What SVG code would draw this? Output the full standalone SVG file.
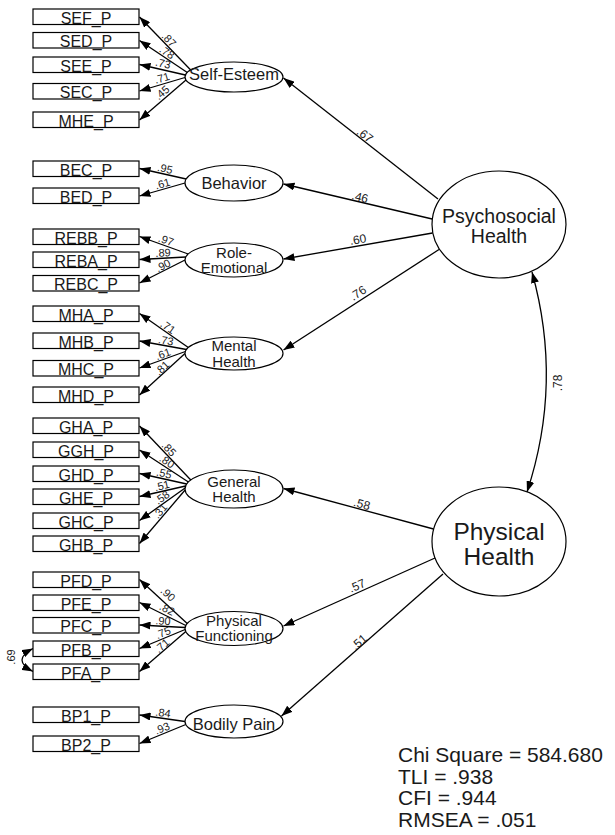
<svg xmlns="http://www.w3.org/2000/svg" width="615" height="835" viewBox="0 0 615 835">
<style>
  .box{fill:#fff;stroke:#000;stroke-width:1.2}
  .lat{fill:#fff;stroke:#000;stroke-width:1.2}
  .bt{font-family:"Liberation Sans",Arial,sans-serif;font-size:16px;fill:#1a1a1a;text-anchor:middle}
  .lt{font-family:"Liberation Sans",Arial,sans-serif;font-size:16.5px;fill:#1a1a1a;text-anchor:middle}
  .lt2{font-family:"Liberation Sans",Arial,sans-serif;font-size:15px;fill:#1a1a1a;text-anchor:middle}
  .big{font-family:"Liberation Sans",Arial,sans-serif;font-size:19.5px;fill:#1a1a1a;text-anchor:middle}
  .big2{font-family:"Liberation Sans",Arial,sans-serif;font-size:24.5px;fill:#1a1a1a;text-anchor:middle}
  .ln{fill:none;stroke:#000;stroke-width:1.3;marker-end:url(#ah)}
  .cv{fill:none;stroke:#000;stroke-width:1.3;marker-start:url(#ah2);marker-end:url(#ah2)}
  .w{font-family:"Liberation Sans",Arial,sans-serif;font-size:11px;fill:#1a1a1a;text-anchor:middle}
  .ws{font-family:"Liberation Sans",Arial,sans-serif;font-size:12px;fill:#1a1a1a;text-anchor:middle}
  .fit{font-family:"Liberation Sans",Arial,sans-serif;font-size:21px;fill:#1a1a1a}
</style>
<defs>
  <marker id="ah" viewBox="0 0 11 8" refX="11" refY="4" markerWidth="11" markerHeight="8" markerUnits="userSpaceOnUse" orient="auto"><path d="M0,0 L11,4 L0,8 z" fill="#000"/></marker>
  <marker id="ah2" viewBox="0 0 11 8" refX="11" refY="4" markerWidth="11" markerHeight="8" markerUnits="userSpaceOnUse" orient="auto-start-reverse"><path d="M0,0 L11,4 L0,8 z" fill="#000"/></marker>
</defs>

<g id="connectors">
  <!-- Self-Esteem indicators -->
  <line class="ln" x1="190.7" y1="70" x2="139.5" y2="17"/>
  <line class="ln" x1="187.3" y1="72.5" x2="139.5" y2="40.5"/>
  <line class="ln" x1="185.4" y1="75" x2="139.5" y2="64.5"/>
  <line class="ln" x1="185" y1="77.5" x2="139.5" y2="91"/>
  <line class="ln" x1="186" y1="80" x2="139.5" y2="120"/>
  <!-- Behavior -->
  <line class="ln" x1="186.2" y1="179" x2="139.5" y2="168.5"/>
  <line class="ln" x1="185" y1="183" x2="139.5" y2="196"/>
  <!-- Role-Emotional -->
  <line class="ln" x1="188.2" y1="254" x2="139.5" y2="236.5"/>
  <line class="ln" x1="185.8" y1="257" x2="139.5" y2="259.5"/>
  <line class="ln" x1="185" y1="260" x2="139.5" y2="283"/>
  <!-- Mental Health -->
  <line class="ln" x1="188.3" y1="347.5" x2="139.5" y2="313.5"/>
  <line class="ln" x1="186.5" y1="349.5" x2="139.5" y2="341"/>
  <line class="ln" x1="185.4" y1="351.5" x2="139.5" y2="368"/>
  <line class="ln" x1="185" y1="353.5" x2="139.5" y2="395"/>
  <!-- General Health -->
  <line class="ln" x1="190.8" y1="480" x2="139.5" y2="426"/>
  <line class="ln" x1="188.4" y1="482" x2="139.5" y2="450"/>
  <line class="ln" x1="186.7" y1="484" x2="139.5" y2="473.5"/>
  <line class="ln" x1="185.6" y1="486" x2="139.5" y2="496.5"/>
  <line class="ln" x1="185.1" y1="488" x2="139.5" y2="520.5"/>
  <line class="ln" x1="185.1" y1="490" x2="139.5" y2="543.5"/>
  <!-- Physical Functioning -->
  <line class="ln" x1="187.2" y1="623.5" x2="139.5" y2="579.5"/>
  <line class="ln" x1="185.8" y1="625.5" x2="139.5" y2="602.5"/>
  <line class="ln" x1="185.1" y1="627.5" x2="139.5" y2="625"/>
  <line class="ln" x1="185.1" y1="629.5" x2="139.5" y2="648.5"/>
  <line class="ln" x1="185.8" y1="631.5" x2="139.5" y2="671.5"/>
  <!-- Bodily Pain -->
  <line class="ln" x1="185" y1="721.5" x2="139.5" y2="715"/>
  <line class="ln" x1="185.8" y1="724.5" x2="139.5" y2="743.5"/>
  <!-- structural paths -->
  <line class="ln" x1="438" y1="199" x2="283.5" y2="78"/>
  <line class="ln" x1="432.2" y1="219" x2="283.5" y2="184"/>
  <line class="ln" x1="432.5" y1="233" x2="283.5" y2="259"/>
  <line class="ln" x1="439" y1="249.5" x2="283.5" y2="350"/>
  <line class="ln" x1="433.5" y1="529" x2="283.5" y2="488.5"/>
  <line class="ln" x1="435" y1="558" x2="283.5" y2="626"/>
  <line class="ln" x1="443" y1="574" x2="281.5" y2="716"/>
  <!-- covariances -->
  <path class="cv" d="M532,272 Q563,383 527,492"/>
  <path class="cv" d="M33,648.5 Q11,660 33,671.5"/>

  <!-- loading labels -->
  <text class="w" dy=".35em" transform="translate(169,39.6) rotate(46)">.87</text>
  <text class="w" dy=".35em" transform="translate(167,52.3) rotate(33.8)">.78</text>
  <text class="w" dy=".35em" transform="translate(163,63.5) rotate(12.9)">.73</text>
  <text class="w" dy=".35em" transform="translate(162,78) rotate(-16.5)">.71</text>
  <text class="w" dy=".35em" transform="translate(162,92.5) rotate(-40.7)">.45</text>

  <text class="w" dy=".35em" transform="translate(165,168.6) rotate(12.7)">.95</text>
  <text class="w" dy=".35em" transform="translate(162.5,183.7) rotate(-15.9)">.61</text>

  <text class="w" dy=".35em" transform="translate(166,240.1) rotate(19.8)">.97</text>
  <text class="w" dy=".35em" transform="translate(163,252.7) rotate(-3.1)">.89</text>
  <text class="w" dy=".35em" transform="translate(163,265.5) rotate(-26.8)">.90</text>

  <text class="w" dy=".35em" transform="translate(168,327) rotate(34.9)">.71</text>
  <text class="w" dy=".35em" transform="translate(166,340.5) rotate(10.3)">.73</text>
  <text class="w" dy=".35em" transform="translate(163,354) rotate(-19.8)">.61</text>
  <text class="w" dy=".35em" transform="translate(162,368) rotate(-42.4)">.81</text>

  <text class="w" dy=".35em" transform="translate(169,449) rotate(46.5)">.85</text>
  <text class="w" dy=".35em" transform="translate(167,461.4) rotate(33.2)">.80</text>
  <text class="w" dy=".35em" transform="translate(164,473.3) rotate(12.5)">.55</text>
  <text class="w" dy=".35em" transform="translate(162,485.7) rotate(-12.8)">.51</text>
  <text class="w" dy=".35em" transform="translate(162,497.5) rotate(-35.5)">.58</text>
  <text class="w" dy=".35em" transform="translate(160,511) rotate(-49.6)">.31</text>

  <text class="w" dy=".35em" transform="translate(168,594) rotate(42.7)">.90</text>
  <text class="w" dy=".35em" transform="translate(167,609) rotate(26.4)">.82</text>
  <text class="w" dy=".35em" transform="translate(163,620.8) rotate(3.1)">.90</text>
  <text class="w" dy=".35em" transform="translate(163,632.7) rotate(-22.6)">.75</text>
  <text class="w" dy=".35em" transform="translate(162,645.5) rotate(-40.8)">.71</text>

  <text class="w" dy=".35em" transform="translate(163,712.8) rotate(8.1)">.84</text>
  <text class="w" dy=".35em" transform="translate(162,728.3) rotate(-22.3)">.93</text>

  <text class="ws" dy=".35em" transform="translate(365,135) rotate(38.1)">.67</text>
  <text class="ws" dy=".35em" transform="translate(360,197) rotate(13.7)">.46</text>
  <text class="ws" dy=".35em" transform="translate(358,239.5) rotate(-9.9)">.60</text>
  <text class="ws" dy=".35em" transform="translate(358,293) rotate(-33)">.76</text>
  <text class="ws" dy=".35em" transform="translate(362,504) rotate(15.2)">.58</text>
  <text class="ws" dy=".35em" transform="translate(357,585.5) rotate(-24)">.57</text>
  <text class="ws" dy=".35em" transform="translate(359,642) rotate(-41.3)">.51</text>

  <text class="ws" transform="translate(562,383) rotate(-90)">.78</text>
  <text class="w" transform="translate(15,657) rotate(-90)">.69</text>
</g>

<!-- Indicator boxes -->
<g id="SEF_P"><rect class="box" x="33" y="9" width="106" height="15.5"/><text class="bt" x="86" y="23.5">SEF_P</text></g>
<g id="SED_P"><rect class="box" x="33" y="32.5" width="106" height="15.5"/><text class="bt" x="86" y="47">SED_P</text></g>
<g id="SEE_P"><rect class="box" x="33" y="57" width="106" height="15.5"/><text class="bt" x="86" y="71.5">SEE_P</text></g>
<g id="SEC_P"><rect class="box" x="33" y="83.5" width="106" height="15.5"/><text class="bt" x="86" y="98">SEC_P</text></g>
<g id="MHE_P"><rect class="box" x="33" y="112" width="106" height="15.5"/><text class="bt" x="86" y="126.5">MHE_P</text></g>

<g id="BEC_P"><rect class="box" x="33" y="161" width="106" height="15.5"/><text class="bt" x="86" y="175.5">BEC_P</text></g>
<g id="BED_P"><rect class="box" x="33" y="188" width="106" height="15.5"/><text class="bt" x="86" y="202.5">BED_P</text></g>

<g id="REBB_P"><rect class="box" x="33" y="229" width="106" height="15.5"/><text class="bt" x="86" y="243.5">REBB_P</text></g>
<g id="REBA_P"><rect class="box" x="33" y="252" width="106" height="15.5"/><text class="bt" x="86" y="266.5">REBA_P</text></g>
<g id="REBC_P"><rect class="box" x="33" y="275.5" width="106" height="15.5"/><text class="bt" x="86" y="290">REBC_P</text></g>

<g id="MHA_P"><rect class="box" x="33" y="306" width="106" height="15.5"/><text class="bt" x="86" y="320.5">MHA_P</text></g>
<g id="MHB_P"><rect class="box" x="33" y="333" width="106" height="15.5"/><text class="bt" x="86" y="347.5">MHB_P</text></g>
<g id="MHC_P"><rect class="box" x="33" y="360.5" width="106" height="15.5"/><text class="bt" x="86" y="375">MHC_P</text></g>
<g id="MHD_P"><rect class="box" x="33" y="387" width="106" height="15.5"/><text class="bt" x="86" y="401.5">MHD_P</text></g>

<g id="GHA_P"><rect class="box" x="33" y="418" width="106" height="15.5"/><text class="bt" x="86" y="432.5">GHA_P</text></g>
<g id="GGH_P"><rect class="box" x="33" y="442" width="106" height="15.5"/><text class="bt" x="86" y="456.5">GGH_P</text></g>
<g id="GHD_P"><rect class="box" x="33" y="466" width="106" height="15.5"/><text class="bt" x="86" y="480.5">GHD_P</text></g>
<g id="GHE_P"><rect class="box" x="33" y="489" width="106" height="15.5"/><text class="bt" x="86" y="503.5">GHE_P</text></g>
<g id="GHC_P"><rect class="box" x="33" y="513" width="106" height="15.5"/><text class="bt" x="86" y="527.5">GHC_P</text></g>
<g id="GHB_P"><rect class="box" x="33" y="536" width="106" height="15.5"/><text class="bt" x="86" y="550.5">GHB_P</text></g>

<g id="PFD_P"><rect class="box" x="33" y="572" width="106" height="15.5"/><text class="bt" x="86" y="586.5">PFD_P</text></g>
<g id="PFE_P"><rect class="box" x="33" y="595" width="106" height="15.5"/><text class="bt" x="86" y="609.5">PFE_P</text></g>
<g id="PFC_P"><rect class="box" x="33" y="617.5" width="106" height="15.5"/><text class="bt" x="86" y="632">PFC_P</text></g>
<g id="PFB_P"><rect class="box" x="33" y="641" width="106" height="15.5"/><text class="bt" x="86" y="655.5">PFB_P</text></g>
<g id="PFA_P"><rect class="box" x="33" y="664" width="106" height="15.5"/><text class="bt" x="86" y="678.5">PFA_P</text></g>

<g id="BP1_P"><rect class="box" x="33" y="707" width="106" height="15.5"/><text class="bt" x="86" y="721.5">BP1_P</text></g>
<g id="BP2_P"><rect class="box" x="33" y="736" width="106" height="15.5"/><text class="bt" x="86" y="750.5">BP2_P</text></g>

<!-- First-order latents -->
<g id="SelfEsteem"><ellipse class="lat" cx="234" cy="77" rx="49" ry="15"/><text class="lt" x="234" y="79.5">Self-Esteem</text></g>
<g id="Behavior"><ellipse class="lat" cx="234" cy="183" rx="49" ry="18"/><text class="lt" x="234" y="189">Behavior</text></g>
<g id="RoleEmotional"><ellipse class="lat" cx="234" cy="260" rx="49" ry="17"/><text class="lt2" x="234" y="257.5">Role-</text><text class="lt2" x="234" y="273">Emotional</text></g>
<g id="MentalHealth"><ellipse class="lat" cx="234" cy="353.5" rx="49" ry="16.5"/><text class="lt2" x="234" y="351">Mental</text><text class="lt2" x="234" y="366.5">Health</text></g>
<g id="GeneralHealth"><ellipse class="lat" cx="234" cy="489" rx="49" ry="19"/><text class="lt2" x="234" y="486.5">General</text><text class="lt2" x="234" y="502">Health</text></g>
<g id="PhysicalFunctioning"><ellipse class="lat" cx="234" cy="628.5" rx="49" ry="17"/><text class="lt2" x="234" y="625.5">Physical</text><text class="lt2" x="234" y="641">Functioning</text></g>
<g id="BodilyPain"><ellipse class="lat" cx="234" cy="721.5" rx="49" ry="16.5"/><text class="lt" x="234" y="730">Bodily Pain</text></g>

<!-- Second-order latents -->
<g id="PsychosocialHealth"><ellipse class="lat" cx="499" cy="224.5" rx="67" ry="53.5"/><text class="big" x="499" y="223">Psychosocial</text><text class="big" x="499" y="243">Health</text></g>
<g id="PhysicalHealth"><ellipse class="lat" cx="499" cy="541.5" rx="67" ry="54.5"/><text class="big2" x="499" y="540">Physical</text><text class="big2" x="499" y="565">Health</text></g>

<!-- Fit statistics -->
<g id="fit">
  <text class="fit" x="398" y="762">Chi Square = 584.680</text>
  <text class="fit" x="398" y="783.7">TLI = .938</text>
  <text class="fit" x="398" y="805.4">CFI = .944</text>
  <text class="fit" x="398" y="827.1">RMSEA = .051</text>
</g>
</svg>
